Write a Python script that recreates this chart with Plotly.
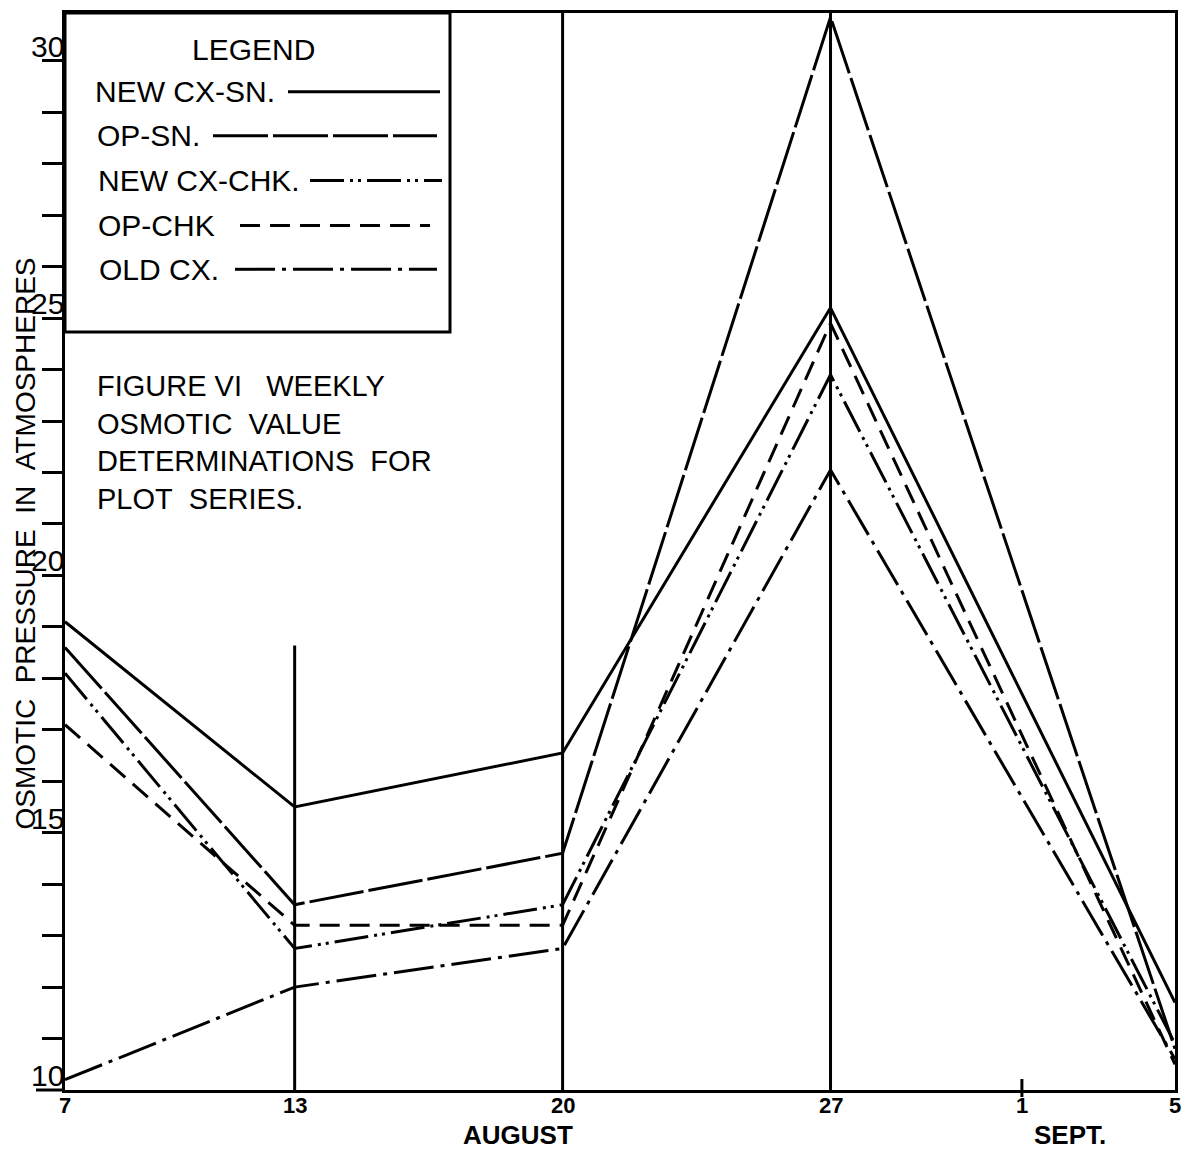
import plotly.graph_objects as go

# ---- data (day numbers counted from August 0; Sept 5 = 36) ----
days = [7, 13, 20, 27, 36]
new_cx_sn = [19.1, 15.5, 16.55, 25.2, 11.7]
op_sn = [18.6, 13.6, 14.6, 30.85, 10.8]
new_cx_chk = [18.1, 12.75, 13.6, 23.9, 10.9]
op_chk = [17.1, 13.2, 13.2, 24.9, 10.5]
old_cx = [10.2, 12.0, 12.75, 22.05, 10.6]

x_tickvals = [7, 13, 20, 27, 32, 36]
x_ticktext = ["7", "13", "20", "27", "1", "5"]
y_labels = [10, 15, 20, 25, 30]

series_names = ["NEW CX-SN.", "OP-SN.", "NEW CX-CHK.", "OP-CHK", "OLD CX."]
series_vals = [new_cx_sn, op_sn, new_cx_chk, op_chk, old_cx]
dashes = ["solid", "55px,5px", "34px,6px,3px,5px,3px,6px", "20px,10px", "40px,7px,4px,7px"]

W, H = 1191, 1154
PL, PR, PT, PB = 65, 1175, 10, 1090
L, R, T, B = PL, W - PR, PT, H - PB
PW, PH = PR - PL, PB - PT
FONT = "Liberation Sans, Arial, sans-serif"


def px(x):
    return (x - PL) / PW


def py(y):
    return (PB - y) / PH


fig = go.Figure()
for name, vals, d in zip(series_names, series_vals, dashes):
    fig.add_trace(go.Scatter(x=days, y=vals, mode="lines", name=name, showlegend=False,
                             line=dict(color="black", width=3, dash=d)))

shapes = []
shapes.append(dict(type="line", xref="x", yref="y", x0=13, x1=13, y0=10, y1=18.64,
                   line=dict(color="black", width=3)))
for xv in (20, 27):
    shapes.append(dict(type="line", xref="x", yref="paper", x0=xv, x1=xv, y0=0, y1=1,
                       line=dict(color="black", width=3)))
shapes.append(dict(type="line", xref="x", yref="paper", x0=32, x1=32, y0=py(1097), y1=py(1079),
                   line=dict(color="black", width=3)))
shapes.append(dict(type="line", xref="paper", yref="paper", x0=px(36), x1=0, y0=0, y1=0,
                   line=dict(color="black", width=3)))
shapes.append(dict(type="rect", xref="paper", yref="paper", x0=0, x1=px(450), y0=py(330), y1=1,
                   line=dict(color="black", width=3), fillcolor="white", layer="above"))

annotations = []
annotations.append(dict(text="LEGEND", xref="paper", yref="paper", x=px(253), y=py(47),
                        xanchor="center", yanchor="middle", showarrow=False,
                        font=dict(family=FONT, size=30, color="black")))
leg_rows = [
    (93, 89, 288, 440),
    (95, 133, 213, 437),
    (96, 178, 310, 442),
    (96, 223, 240, 430),
    (97, 267, 235, 437),
]
for (tx, ty, lx0, lx1), name, d in zip(leg_rows, series_names, dashes):
    annotations.append(dict(text=name, xref="paper", yref="paper", x=px(tx), y=py(ty),
                            xanchor="left", yanchor="middle", showarrow=False,
                            font=dict(family=FONT, size=30, color="black")))
    shapes.append(dict(type="line", xref="paper", yref="paper", x0=px(lx0), x1=px(lx1),
                       y0=py(ty), y1=py(ty), line=dict(color="black", width=3, dash=d),
                       layer="above"))

annotations.append(dict(
    text="FIGURE\u00a0VI\u00a0\u00a0\u00a0WEEKLY<br>OSMOTIC\u00a0\u00a0VALUE<br>DETERMINATIONS\u00a0\u00a0FOR<br>PLOT\u00a0\u00a0SERIES.",
    xref="paper", yref="paper", x=px(95), y=py(366), xanchor="left", yanchor="top",
    align="left", showarrow=False, font=dict(family=FONT, size=29, color="black")))

for v in y_labels:
    annotations.append(dict(text=str(v), xref="paper", yref="y", x=0, y=v, xanchor="right",
                            yanchor="bottom", xshift=1, yshift=-4, showarrow=False,
                            font=dict(family=FONT, size=30, color="black")))

for xv, lab in zip(x_tickvals, x_ticktext):
    annotations.append(dict(text=lab, xref="x", yref="paper", x=xv, y=py(1106),
                            xanchor="center", yanchor="middle", showarrow=False, borderpad=0,
                            font=dict(family=FONT, size=22, color="black", weight="bold")))

annotations.append(dict(text="OSMOTIC\u00a0\u00a0PRESSURE\u00a0\u00a0IN\u00a0\u00a0ATMOSPHERES",
                        xref="paper", yref="paper", x=px(26), y=py(542), xanchor="center",
                        yanchor="middle", textangle=-90, showarrow=False,
                        font=dict(family=FONT, size=28, color="black")))

annotations.append(dict(text="AUGUST", xref="paper", yref="paper", x=px(518), y=py(1135),
                        xanchor="center", yanchor="middle", showarrow=False, borderpad=0,
                        font=dict(family=FONT, size=26, color="black", weight="bold")))
annotations.append(dict(text="SEPT.", xref="paper", yref="paper", x=px(1070), y=py(1135),
                        xanchor="center", yanchor="middle", showarrow=False, borderpad=0,
                        font=dict(family=FONT, size=26, color="black", weight="bold")))

fig.update_layout(
    width=W, height=H,
    margin=dict(l=L, r=R, t=T, b=B),
    paper_bgcolor="white", plot_bgcolor="white",
    shapes=shapes, annotations=annotations,
    xaxis=dict(range=[7, 36], showgrid=False, zeroline=False, showline=True, mirror=True,
               linecolor="black", linewidth=3, tickvals=x_tickvals, ticks="",
               showticklabels=False),
    yaxis=dict(range=[10, 30.93], showgrid=False, zeroline=False, showline=True, mirror=True,
               linecolor="black", linewidth=3, tickvals=list(range(11, 31)),
               ticks="outside", ticklen=20, tickwidth=2.5, tickcolor="black",
               showticklabels=False),
)

fig.write_html("out.html", config={"displayModeBar": False},
               post_script="document.body.style.margin='0';document.body.style.overflow='hidden';")
